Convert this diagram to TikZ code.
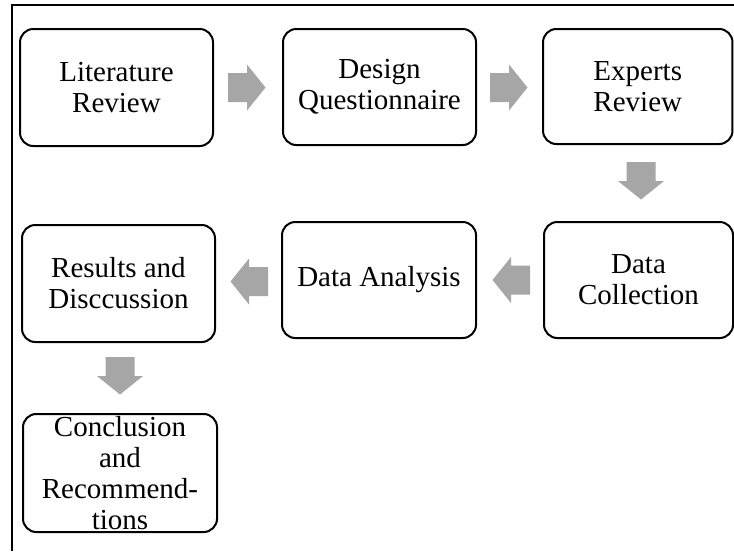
\documentclass[tikz,border=0pt]{standalone}
\usepackage{fontspec}
\setmainfont{Liberation Serif}
\definecolor{arrowgray}{RGB}{166,166,166}
\begin{document}
\begin{tikzpicture}[x=0.75pt,y=-0.75pt,
  box/.style={draw, line width=1.5pt, rounded corners=10pt, align=center, inner sep=0pt,
    font=\fontsize{21.75}{23.25}\selectfont},
  barrow/.pic={\fill[arrowgray] (0,-14.5) -- (19,-14.5) -- (19,-23) -- (37.5,0) -- (19,23) -- (19,14.5) -- (0,14.5) -- cycle;}]
\useasboundingbox (0,0) rectangle (734,551);
\draw[line width=1.5pt] (12,551) -- (12,5) -- (734,5);
\node[box, minimum width=144.75pt, minimum height=87.75pt] (lit) at (116.5,87.5) {Literature\\Review};
\node[box, minimum width=144.75pt, minimum height=87pt] (des) at (379.5,87) {Design\\Questionnaire};
\node[box, minimum width=142.1pt, minimum height=86.25pt] (exp) at (637.75,86.5) {Experts\\Review};
\node[box, minimum width=141.75pt, minimum height=87pt] (dc) at (638.5,280) {Data\\Collection};
\node[box, minimum width=145.5pt, minimum height=87pt] (da) at (379,280) {Data Analysis};
\node[box, minimum width=144.75pt, minimum height=87.75pt] (res) at (118.5,283.5) {Results and\\Disccussion};
\node[box, minimum width=145.5pt, minimum height=88.5pt] (con) at (120,473) {Conclusion\\and\\Recommend-\\tions};
\pic at (228,87.5) {barrow};
\pic at (490,87.5) {barrow};
\pic[rotate=-90] at (641,162) {barrow};
\pic[rotate=180] at (530,280) {barrow};
\pic[rotate=180] at (268,281.5) {barrow};
\pic[rotate=-90] at (120,357) {barrow};
\end{tikzpicture}
\end{document}
